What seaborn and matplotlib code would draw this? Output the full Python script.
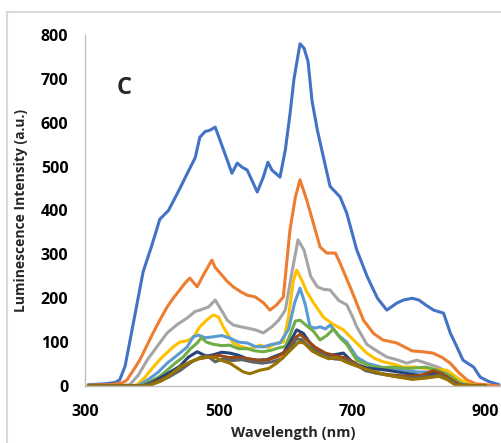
import numpy as np
import pandas as pd
import matplotlib
matplotlib.use("Agg")
import matplotlib.pyplot as plt
import seaborn as sns
from matplotlib.patches import Rectangle

# spectra (wavelength nm, intensity a.u.)
blue_wl = [305, 330, 345, 352, 360, 372, 387, 400, 412, 425, 442, 455, 465, 472, 480, 487, 495,
           502, 513, 520, 528, 535, 543, 558, 567, 574, 580, 592, 600, 607, 613, 622, 628, 634,
           640, 648, 657, 667, 672, 682, 692, 707, 723, 738, 752, 767, 777, 790, 800, 810, 822,
           837, 847, 857, 866, 882, 892, 905, 920]
blue_I = [3, 5, 8, 14, 45, 140, 260, 320, 380, 400, 450, 490, 520, 567, 580, 583, 590,
          561, 515, 485, 508, 499, 492, 442, 476, 510, 492, 476, 538, 620, 700, 780, 770, 740,
          650, 583, 522, 455, 447, 431, 394, 310, 248, 200, 173, 189, 196, 200, 196, 185, 173,
          166, 121, 89, 59, 43, 20, 10, 3]

orange_wl = [305, 340, 357, 363, 372, 382, 392, 402, 412, 423, 432, 442, 450, 457, 463, 468, 478,
             490, 495, 502, 512, 522, 533, 543, 555, 567, 577, 587, 597, 607, 615, 622, 632, 642,
             652, 662, 675, 682, 697, 717, 732, 746, 767, 790, 806, 821, 835, 847, 860, 872, 885,
             900, 920]
orange_I = [2, 3, 8, 14, 35, 59, 90, 121, 150, 180, 200, 219, 235, 246, 235, 226, 255,
            287, 270, 258, 240, 226, 215, 207, 203, 190, 173, 185, 203, 356, 430, 470, 424, 371,
            317, 303, 303, 280, 226, 150, 120, 105, 98, 80, 78, 75, 65, 52, 30, 14, 5,
            3, 0]

gray_wl = [305, 350, 367, 380, 393, 408, 423, 438, 453, 465, 472, 485, 495, 507, 513, 522, 533,
           543, 555, 567, 580, 590, 600, 610, 619, 628, 638, 648, 658, 667, 680, 692, 700, 707,
           722, 737, 752, 767, 782, 797, 815, 832, 845, 857, 872, 900]
gray_I = [0, 0, 3, 25, 59, 90, 121, 140, 155, 170, 173, 180, 196, 166, 150, 139, 135,
          132, 128, 121, 135, 150, 173, 260, 333, 310, 250, 226, 220, 219, 195, 185, 160, 135,
          95, 80, 66, 60, 52, 59, 50, 41, 28, 14, 2, 0]

yellow_wl = [305, 370, 378, 390, 402, 415, 432, 442, 452, 462, 472, 482, 492, 500, 507, 515, 522,
             533, 547, 562, 575, 587, 597, 605, 612, 617, 625, 632, 642, 657, 672, 687, 702, 712,
             722, 735, 747, 762, 777, 795, 810, 826, 842, 852, 862, 880, 900]
yellow_I = [0, 0, 3, 20, 43, 65, 89, 100, 103, 110, 135, 150, 162, 157, 135, 115, 98,
            90, 85, 93, 88, 98, 100, 160, 240, 264, 240, 215, 190, 157, 140, 128, 105, 90,
            75, 62, 55, 50, 43, 43, 40, 38, 36, 25, 14, 2, 0]

lblue_wl = [305, 375, 382, 395, 410, 423, 438, 453, 462, 470, 480, 492, 505, 517, 530, 543, 555,
            567, 580, 592, 605, 614, 622, 630, 637, 645, 652, 660, 667, 680, 692, 707, 722, 746,
            770, 797, 827, 840, 852, 870, 900]
lblue_I = [0, 0, 3, 15, 32, 52, 70, 89, 112, 116, 110, 112, 115, 109, 100, 98, 90,
           89, 95, 98, 130, 190, 223, 185, 135, 132, 135, 130, 139, 115, 100, 66, 52, 42,
           38, 32, 32, 28, 14, 2, 0]

green_wl = [305, 380, 387, 400, 412, 423, 435, 447, 458, 468, 474, 482, 492, 505, 517, 530, 543,
            555, 567, 580, 590, 600, 608, 615, 622, 630, 642, 652, 662, 672, 682, 692, 707, 727,
            745, 762, 785, 811, 830, 847, 865, 900]
green_I = [0, 0, 3, 12, 22, 36, 52, 66, 85, 98, 110, 100, 95, 92, 93, 85, 85,
           80, 78, 82, 87, 90, 120, 148, 150, 140, 125, 105, 115, 130, 110, 95, 59, 45,
           42, 43, 40, 43, 35, 23, 3, 0]

dblue_wl = [305, 385, 392, 405, 420, 442, 455, 468, 482, 492, 505, 517, 530, 543, 557, 572, 585,
            597, 607, 617, 627, 637, 652, 662, 672, 687, 702, 722, 752, 777, 806, 827, 847, 860,
            900]
dblue_I = [0, 0, 3, 12, 25, 45, 66, 78, 68, 71, 77, 75, 70, 62, 59, 60, 68,
           75, 100, 128, 120, 98, 75, 70, 71, 75, 52, 41, 36, 30, 23, 30, 14, 2,
           0]

dred_wl = [305, 388, 395, 410, 425, 442, 458, 470, 485, 500, 515, 530, 545, 560, 575, 590, 605,
           615, 622, 632, 645, 660, 672, 687, 702, 717, 735, 760, 785, 805, 822, 835, 848, 862,
           900]
dred_I = [0, 0, 3, 12, 22, 38, 55, 62, 66, 70, 65, 65, 62, 58, 60, 68, 85,
          110, 118, 105, 88, 75, 70, 65, 55, 40, 30, 25, 22, 25, 35, 28, 15, 2,
          0]

dgray_wl = [305, 388, 395, 410, 425, 442, 460, 472, 482, 495, 507, 520, 535, 550, 565, 580, 595,
            607, 617, 625, 635, 648, 660, 672, 687, 702, 720, 740, 765, 790, 815, 832, 845, 858,
            900]
dgray_I = [0, 0, 3, 10, 20, 35, 55, 65, 70, 55, 62, 58, 60, 55, 52, 55, 62,
           85, 108, 105, 90, 78, 70, 62, 60, 52, 35, 28, 22, 18, 22, 25, 15, 2,
           0]

olive_wl = [305, 392, 400, 415, 430, 442, 458, 470, 483, 495, 505, 517, 527, 537, 547, 562, 575,
            587, 600, 610, 620, 628, 640, 652, 665, 677, 690, 702, 717, 735, 752, 770, 790, 810,
            830, 842, 855, 900]
olive_I = [0, 0, 3, 12, 28, 43, 55, 62, 66, 65, 58, 52, 42, 32, 28, 36, 40,
           52, 70, 85, 100, 98, 80, 70, 62, 65, 55, 48, 40, 32, 25, 20, 15, 18,
           22, 15, 2, 0]

series = [("s1", blue_wl, blue_I), ("s2", orange_wl, orange_I), ("s3", gray_wl, gray_I),
          ("s4", yellow_wl, yellow_I), ("s5", lblue_wl, lblue_I), ("s6", green_wl, green_I),
          ("s7", dblue_wl, dblue_I), ("s8", dred_wl, dred_I), ("s9", dgray_wl, dgray_I),
          ("s10", olive_wl, olive_I)]
colors = ["#4472C4", "#ED7D31", "#A5A5A5", "#FFC000", "#5B9BD5",
          "#70AD47", "#264478", "#9E480E", "#636363", "#997300"]

df = pd.concat([pd.DataFrame({"sample": n, "wl": w, "I": i}) for n, w, i in series])

sns.set_style("white")
plt.rcParams["font.family"] = ["Open Sans", "DejaVu Sans"]

fig = plt.figure(figsize=(5.01, 4.43), dpi=100)
ax = fig.add_axes([85/501, 57/443, 416/501, 351/443])

sns.lineplot(data=df, x="wl", y="I", hue="sample", palette=colors, estimator=None,
             linewidth=2.2, legend=False, ax=ax)

ax.set_xlim(300, 923)
ax.set_ylim(0, 800)
ax.set_xticks([300, 500, 700, 900])
ax.set_yticks(range(0, 801, 100))
for s in ["top", "right"]:
    ax.spines[s].set_visible(False)
for s in ["left", "bottom"]:
    ax.spines[s].set_color("#BFBFBF")
    ax.spines[s].set_linewidth(1.0)
ax.tick_params(axis="both", colors="#BFBFBF", length=5, width=1, labelcolor="black",
               labelsize=11.5)
ax.tick_params(axis="y", pad=7)
ax.tick_params(axis="x", pad=8)
for lab in ax.get_xticklabels() + ax.get_yticklabels():
    lab.set_fontweight("bold")

ax.set_xlabel("Wavelength (nm)", fontsize=10.5, fontweight="bold", labelpad=4)
ax.set_ylabel("Luminescence Intensity (a.u.)", fontsize=10, fontweight="bold", labelpad=9)
ax.text(0.094, 0.849, "C", transform=ax.transAxes, fontsize=17, fontweight="bold",
        ha="center", va="center")

# chart border
fig.patches.append(Rectangle((7/501, -0.5), 2.0, 0.5 + 1 - 12/443, transform=fig.transFigure,
                             fill=False, ec="#D9D9D9", lw=1.5))

fig.savefig("out.png", dpi=100)
